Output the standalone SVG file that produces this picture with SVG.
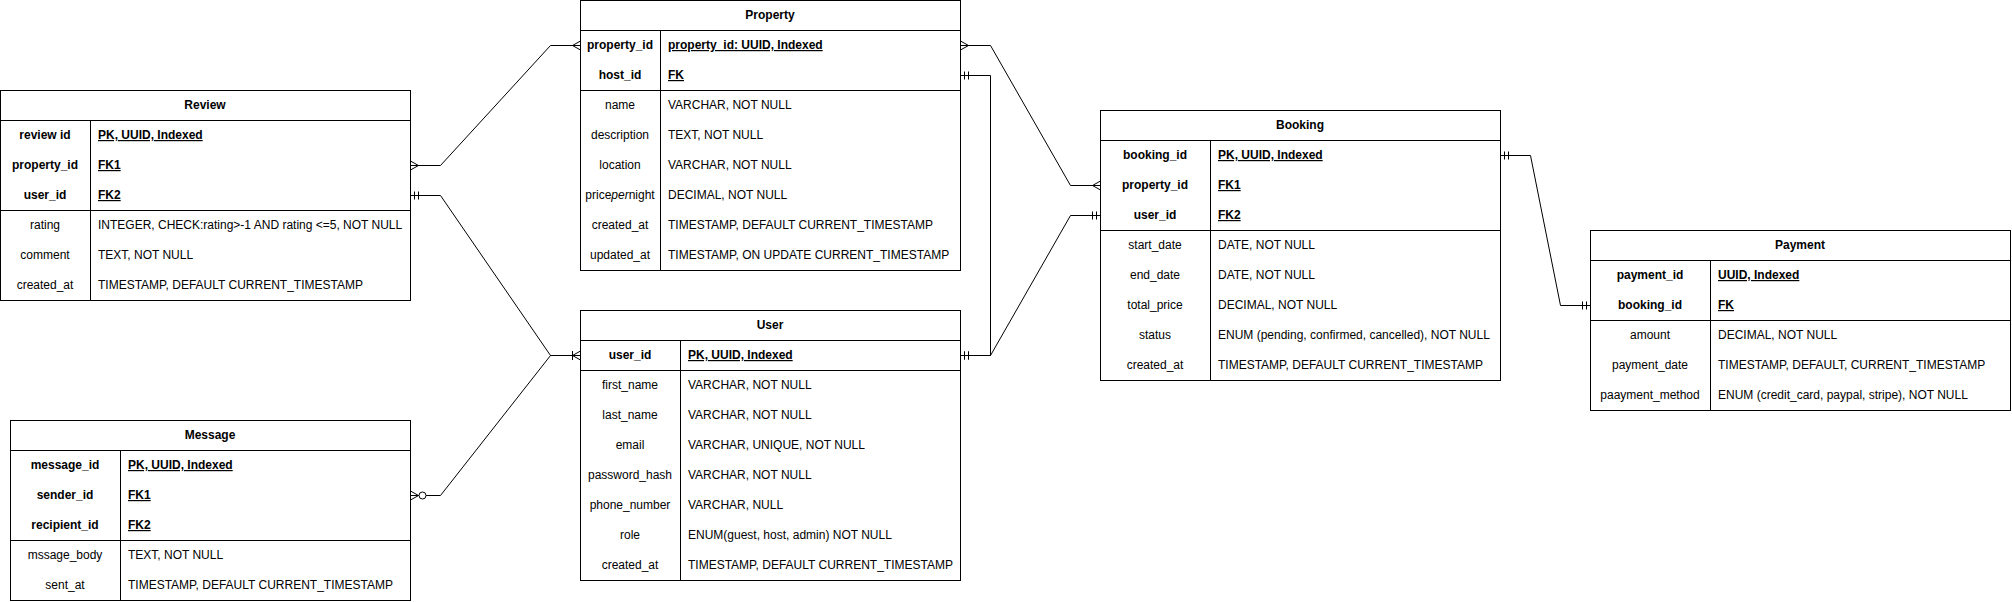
<svg xmlns="http://www.w3.org/2000/svg" width="2012" height="602" viewBox="0 0 2012 602">
<style>
  text { font-family: "Liberation Sans", Arial, Helvetica, sans-serif; font-size: 12px; fill: #000; }
  .title { font-weight: bold; text-anchor: middle; }
  .kn { font-weight: bold; text-anchor: middle; }
  .kv { font-weight: bold; text-decoration: underline; }
  .n { text-anchor: middle; }
  .box { fill: #fff; stroke: #000; stroke-width: 1; }
  .ln { fill: none; stroke: #000; stroke-width: 1; }
  .edge { fill: none; stroke: #000; stroke-width: 1; }
</style>
<defs>
  <marker id="many" markerUnits="userSpaceOnUse" markerWidth="20" markerHeight="20" viewBox="-15 -10 20 20" refX="0" refY="0" orient="auto-start-reverse" overflow="visible">
    <path d="M0,-4.5 L-8,0 L0,4.5 M-8,0 L0,0" fill="none" stroke="#000" stroke-width="1"/>
  </marker>
  <marker id="one" markerUnits="userSpaceOnUse" markerWidth="20" markerHeight="20" viewBox="-15 -10 20 20" refX="0" refY="0" orient="auto-start-reverse" overflow="visible">
    <path d="M-4,-4 L-4,4 M-8,-4 L-8,4" fill="none" stroke="#000" stroke-width="1"/>
  </marker>
  <marker id="oneMany" markerUnits="userSpaceOnUse" markerWidth="20" markerHeight="20" viewBox="-15 -10 20 20" refX="0" refY="0" orient="auto-start-reverse" overflow="visible">
    <path d="M0,-4.5 L-8,0 L0,4.5 M-8,-4.5 L-8,4.5" fill="none" stroke="#000" stroke-width="1"/>
  </marker>
  <marker id="zeroMany" markerUnits="userSpaceOnUse" markerWidth="30" markerHeight="20" viewBox="-20 -10 30 20" refX="0" refY="0" orient="auto-start-reverse" overflow="visible">
    <path d="M0,-4.5 L-8,0 L0,4.5" fill="none" stroke="#000" stroke-width="1"/>
    <circle cx="-12" cy="0" r="3.5" fill="#fff" stroke="#000" stroke-width="1"/>
  </marker>
</defs>
<rect x="0" y="0" width="2012" height="602" fill="#fff"/>

<g id="connectors" transform="translate(0.5,0.5)">
  <path class="edge" d="M410,165 L440,165 L550,45 L580,45" marker-start="url(#many)" marker-end="url(#many)"/>
  <path class="edge" d="M410,195 L440,195 L550,355 L580,355" marker-start="url(#one)" marker-end="url(#oneMany)"/>
  <path class="edge" d="M410,495 L440,495 L550,355 L580,355" marker-start="url(#zeroMany)"/>
  <path class="edge" d="M960,45 L990,45 L1070,185 L1100,185" marker-start="url(#many)" marker-end="url(#many)"/>
  <path class="edge" d="M960,75 L990,75 L990,355 L960,355" marker-start="url(#one)" marker-end="url(#one)"/>
  <path class="edge" d="M960,355 L990,355 L1070,215 L1100,215" marker-start="url(#one)" marker-end="url(#one)"/>
  <path class="edge" d="M1500,155 L1530,155 L1560,305 L1590,305" marker-start="url(#one)" marker-end="url(#one)"/>
</g>

<g id="Review">
  <g transform="translate(0.5,0.5)">
    <rect class="box" x="0" y="90" width="410" height="210"/>
    <path class="ln" d="M0,120 L410,120 M0,210 L410,210 M90,120 L90,300"/>
  </g>
  <text class="title" x="205" y="109">Review</text>
  <text class="kn" x="45" y="139">review id</text>
  <text class="kv" x="98" y="139">PK, UUID, Indexed</text>
  <text class="kn" x="45" y="169">property_id</text>
  <text class="kv" x="98" y="169">FK1</text>
  <text class="kn" x="45" y="199">user_id</text>
  <text class="kv" x="98" y="199">FK2</text>
  <text class="n" x="45" y="229">rating</text>
  <text x="98" y="229">INTEGER, CHECK:rating&gt;-1 AND rating &lt;=5, NOT NULL</text>
  <text class="n" x="45" y="259">comment</text>
  <text x="98" y="259">TEXT, NOT NULL</text>
  <text class="n" x="45" y="289">created_at</text>
  <text x="98" y="289">TIMESTAMP, DEFAULT CURRENT_TIMESTAMP</text>
</g>

<g id="Message">
  <g transform="translate(0.5,0.5)">
    <rect class="box" x="10" y="420" width="400" height="180"/>
    <path class="ln" d="M10,450 L410,450 M10,540 L410,540 M120,450 L120,600"/>
  </g>
  <text class="title" x="210" y="439">Message</text>
  <text class="kn" x="65" y="469">message_id</text>
  <text class="kv" x="128" y="469">PK, UUID, Indexed</text>
  <text class="kn" x="65" y="499">sender_id</text>
  <text class="kv" x="128" y="499">FK1</text>
  <text class="kn" x="65" y="529">recipient_id</text>
  <text class="kv" x="128" y="529">FK2</text>
  <text class="n" x="65" y="559">mssage_body</text>
  <text x="128" y="559">TEXT, NOT NULL</text>
  <text class="n" x="65" y="589">sent_at</text>
  <text x="128" y="589">TIMESTAMP, DEFAULT CURRENT_TIMESTAMP</text>
</g>

<g id="Property">
  <g transform="translate(0.5,0.5)">
    <rect class="box" x="580" y="0" width="380" height="270"/>
    <path class="ln" d="M580,30 L960,30 M580,90 L960,90 M660,30 L660,270"/>
  </g>
  <text class="title" x="770" y="19">Property</text>
  <text class="kn" x="620" y="49">property_id</text>
  <text class="kv" x="668" y="49">property_id: UUID, Indexed</text>
  <text class="kn" x="620" y="79">host_id</text>
  <text class="kv" x="668" y="79">FK</text>
  <text class="n" x="620" y="109">name</text>
  <text x="668" y="109">VARCHAR, NOT NULL</text>
  <text class="n" x="620" y="139">description</text>
  <text x="668" y="139">TEXT, NOT NULL</text>
  <text class="n" x="620" y="169">location</text>
  <text x="668" y="169">VARCHAR, NOT NULL</text>
  <text class="n" x="620" y="199">price<tspan font-style="italic">per</tspan>night</text>
  <text x="668" y="199">DECIMAL, NOT NULL</text>
  <text class="n" x="620" y="229">created_at</text>
  <text x="668" y="229">TIMESTAMP, DEFAULT CURRENT_TIMESTAMP</text>
  <text class="n" x="620" y="259">updated_at</text>
  <text x="668" y="259">TIMESTAMP, ON UPDATE CURRENT_TIMESTAMP</text>
</g>

<g id="User">
  <g transform="translate(0.5,0.5)">
    <rect class="box" x="580" y="310" width="380" height="270"/>
    <path class="ln" d="M580,340 L960,340 M580,370 L960,370 M680,340 L680,580"/>
  </g>
  <text class="title" x="770" y="329">User</text>
  <text class="kn" x="630" y="359">user_id</text>
  <text class="kv" x="688" y="359">PK, UUID, Indexed</text>
  <text class="n" x="630" y="389">first_name</text>
  <text x="688" y="389">VARCHAR, NOT NULL</text>
  <text class="n" x="630" y="419">last_name</text>
  <text x="688" y="419">VARCHAR, NOT NULL</text>
  <text class="n" x="630" y="449">email</text>
  <text x="688" y="449">VARCHAR, UNIQUE, NOT NULL</text>
  <text class="n" x="630" y="479">password_hash</text>
  <text x="688" y="479">VARCHAR, NOT NULL</text>
  <text class="n" x="630" y="509">phone_number</text>
  <text x="688" y="509">VARCHAR, NULL</text>
  <text class="n" x="630" y="539">role</text>
  <text x="688" y="539">ENUM(guest, host, admin) NOT NULL</text>
  <text class="n" x="630" y="569">created_at</text>
  <text x="688" y="569">TIMESTAMP, DEFAULT CURRENT_TIMESTAMP</text>
</g>

<g id="Booking">
  <g transform="translate(0.5,0.5)">
    <rect class="box" x="1100" y="110" width="400" height="270"/>
    <path class="ln" d="M1100,140 L1500,140 M1100,230 L1500,230 M1210,140 L1210,380"/>
  </g>
  <text class="title" x="1300" y="129">Booking</text>
  <text class="kn" x="1155" y="159">booking_id</text>
  <text class="kv" x="1218" y="159">PK, UUID, Indexed</text>
  <text class="kn" x="1155" y="189">property_id</text>
  <text class="kv" x="1218" y="189">FK1</text>
  <text class="kn" x="1155" y="219">user_id</text>
  <text class="kv" x="1218" y="219">FK2</text>
  <text class="n" x="1155" y="249">start_date</text>
  <text x="1218" y="249">DATE, NOT NULL</text>
  <text class="n" x="1155" y="279">end_date</text>
  <text x="1218" y="279">DATE, NOT NULL</text>
  <text class="n" x="1155" y="309">total_price</text>
  <text x="1218" y="309">DECIMAL, NOT NULL</text>
  <text class="n" x="1155" y="339">status</text>
  <text x="1218" y="339">ENUM (pending, confirmed, cancelled), NOT NULL</text>
  <text class="n" x="1155" y="369">created_at</text>
  <text x="1218" y="369">TIMESTAMP, DEFAULT CURRENT_TIMESTAMP</text>
</g>

<g id="Payment">
  <g transform="translate(0.5,0.5)">
    <rect class="box" x="1590" y="230" width="420" height="180"/>
    <path class="ln" d="M1590,260 L2010,260 M1590,320 L2010,320 M1710,260 L1710,410"/>
  </g>
  <text class="title" x="1800" y="249">Payment</text>
  <text class="kn" x="1650" y="279">payment_id</text>
  <text class="kv" x="1718" y="279">UUID, Indexed</text>
  <text class="kn" x="1650" y="309">booking_id</text>
  <text class="kv" x="1718" y="309">FK</text>
  <text class="n" x="1650" y="339">amount</text>
  <text x="1718" y="339">DECIMAL, NOT NULL</text>
  <text class="n" x="1650" y="369">payment_date</text>
  <text x="1718" y="369">TIMESTAMP, DEFAULT, CURRENT_TIMESTAMP</text>
  <text class="n" x="1650" y="399">paayment_method</text>
  <text x="1718" y="399">ENUM (credit_card, paypal, stripe), NOT NULL</text>
</g>
</svg>
